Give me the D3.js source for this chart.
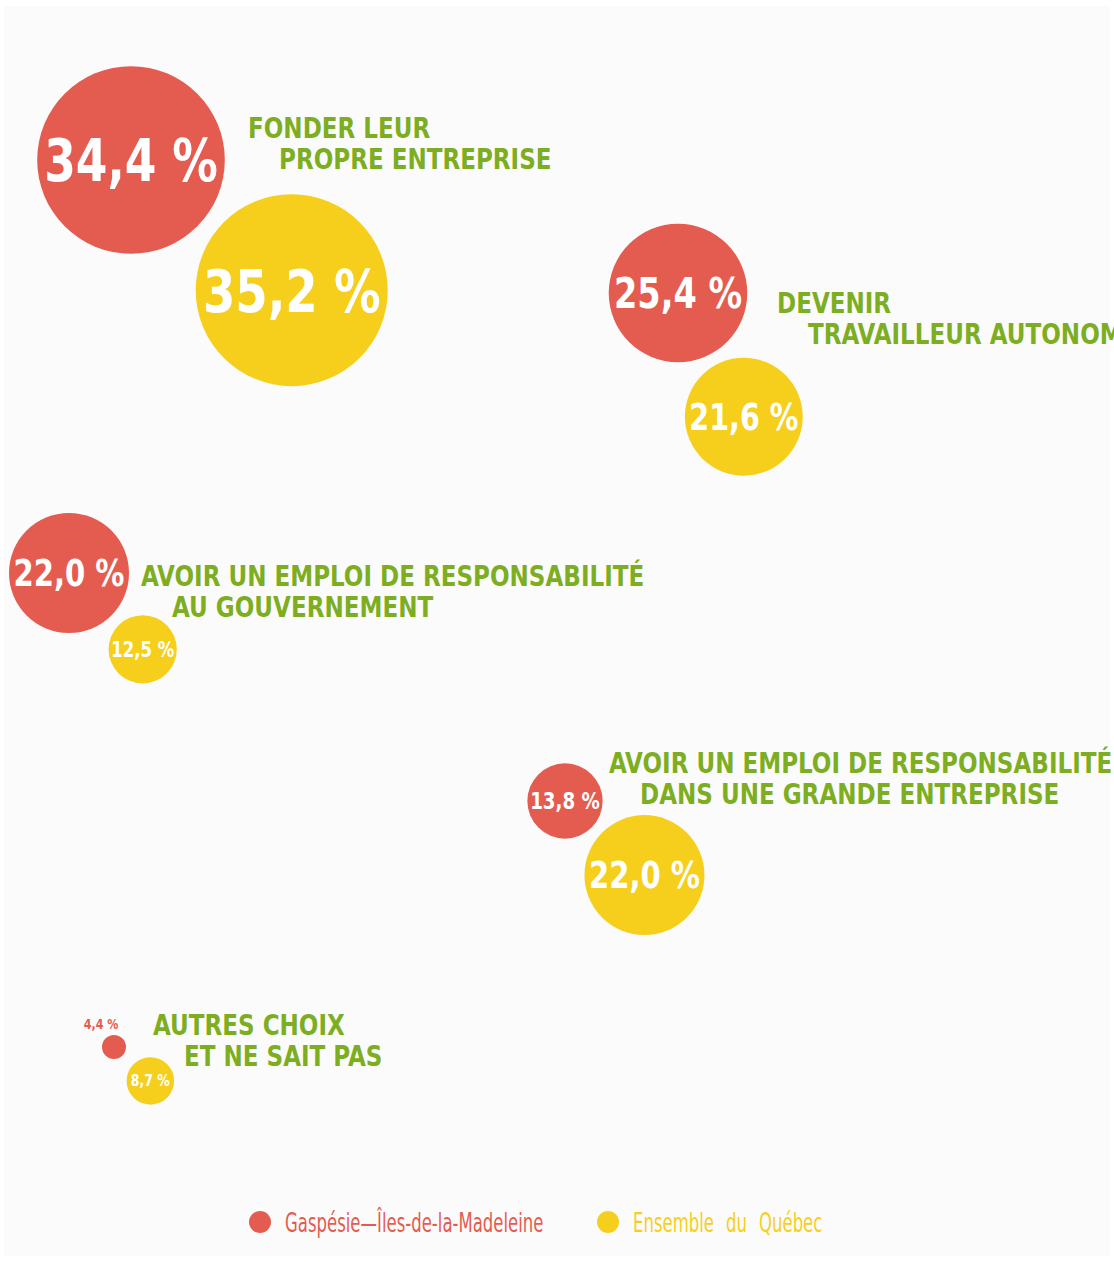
<!DOCTYPE html>
<html>
<head>
<meta charset="utf-8">
<script src="https://cdn.jsdelivr.net/npm/d3@7"></script>
<style>
  body { margin: 0; background: #ffffff; }
  svg { display: block; }
</style>
</head>
<body>
<script>
const width = 1114;
const height = 1262;

// data
const categories = [
  ["FONDER LEUR", "PROPRE ENTREPRISE"],
  ["DEVENIR", "TRAVAILLEUR AUTONOME"],
  ["AVOIR UN EMPLOI DE RESPONSABILITÉ", "AU GOUVERNEMENT"],
  ["AVOIR UN EMPLOI DE RESPONSABILITÉ", "DANS UNE GRANDE ENTREPRISE"],
  ["AUTRES CHOIX", "ET NE SAIT PAS"]
];
const gaspesie = [34.4, 25.4, 22.0, 13.8, 4.4];
const quebec = [35.2, 21.6, 12.5, 22.0, 8.7];
const seriesNames = ["Gaspésie—Îles-de-la-Madeleine", "Ensemble du Québec"];

// layout of each group (red bubble centre, direction of the yellow one, label anchor)
const layout = [
  { x: 131, y: 160, angle: 39, gap: 17, lx: 248, ly: 138 },
  { x: 678, y: 293, angle: 62, gap: 12, lx: 777, ly: 313 },
  { x: 69,  y: 573, angle: 46, gap: 12, lx: 141, ly: 586 },
  { x: 565, y: 801, angle: 43, gap: 11, lx: 609, ly: 773 },
  { x: 114, y: 1047, angle: 43, gap: 14, lx: 153, ly: 1035 }
];

const colors = ["#e45c50", "#f6cf1c"];
const green = "#7dae22";
const font = "'DejaVu Sans Condensed', 'Liberation Sans Narrow', sans-serif";

const r = d3.scaleLinear().domain([0, 35.2]).range([0, 96]);
const fmt = v => d3.format(".1f")(v).replace(".", ",") + " %";

const svg = d3.select("body")
  .append("svg")
  .attr("width", width)
  .attr("height", height);

svg.append("rect")
  .attr("x", 4).attr("y", 6)
  .attr("width", width - 8).attr("height", height - 12)
  .attr("fill", "#fbfbfb");

const groups = categories.map((c, i) => {
  const r1 = r(gaspesie[i]);
  const r2 = r(quebec[i]);
  const L = layout[i];
  const a = L.angle * Math.PI / 180;
  const d = r1 + r2 + L.gap;
  return {
    label: c, L,
    bubbles: [
      { v: gaspesie[i], s: 0, cx: L.x, cy: L.y, r: r1 },
      { v: quebec[i], s: 1, cx: L.x + d * Math.cos(a), cy: L.y + d * Math.sin(a), r: r2 }
    ]
  };
});

const g = svg.selectAll("g.group")
  .data(groups)
  .enter()
  .append("g")
  .attr("class", "group");

const b = g.selectAll("g.bubble")
  .data(d => d.bubbles)
  .enter()
  .append("g")
  .attr("class", "bubble");

b.append("circle")
  .attr("cx", d => d.cx)
  .attr("cy", d => d.cy)
  .attr("r", d => d.r)
  .attr("fill", d => colors[d.s]);

// values inside the bubbles
b.filter(d => d.r >= 15)
  .append("text")
  .attr("x", d => d.cx)
  .attr("y", d => d.cy)
  .attr("dy", "0.36em")
  .attr("text-anchor", "middle")
  .attr("font-family", font)
  .attr("font-weight", "bold")
  .attr("font-size", d => Math.max(15, d.r * 0.62))
  .attr("fill", "#ffffff")
  .attr("textLength", d => d.r > 30 ? d.r * 1.85 : d.r * 1.65)
  .attr("lengthAdjust", "spacingAndGlyphs")
  .text(d => fmt(d.v));

// too small: value above the bubble
b.filter(d => d.r < 15)
  .append("text")
  .attr("transform", d => `translate(${d.cx - 13},${d.cy - d.r - 6}) scale(0.88,1)`)
  .attr("text-anchor", "middle")
  .attr("font-family", font)
  .attr("font-weight", "bold")
  .attr("font-size", 14)
  .attr("fill", d => colors[d.s])
  .text(d => fmt(d.v));

// category labels, narrowed to look like a condensed face
g.selectAll("text.label")
  .data(d => d.label.map((t, j) => ({ t, j, L: d.L })))
  .enter()
  .append("text")
  .attr("class", "label")
  .attr("transform", d => `translate(${d.L.lx + d.j * 31},${d.L.ly + d.j * 31}) scale(0.916,1)`)
  .attr("font-family", font)
  .attr("font-weight", "bold")
  .attr("font-size", 28)
  .attr("fill", green)
  .text(d => d.t);

// legend
const legend = svg.append("g").attr("class", "legend");
const lx = d3.scalePoint().domain(seriesNames).range([260, 608]);

const li = legend.selectAll("g")
  .data(seriesNames)
  .enter()
  .append("g");

li.append("circle")
  .attr("cx", d => lx(d))
  .attr("cy", 1222)
  .attr("r", 11)
  .attr("fill", (d, i) => colors[i]);

li.append("text")
  .attr("transform", d => `translate(${lx(d) + 25},1232) scale(0.68,1)`)
  .attr("font-family", font)
  .attr("font-size", 27)
  .attr("word-spacing", (d, i) => i ? 10 : 0)
  .attr("fill", (d, i) => colors[i])
  .text(d => d);
</script>
</body>
</html>
